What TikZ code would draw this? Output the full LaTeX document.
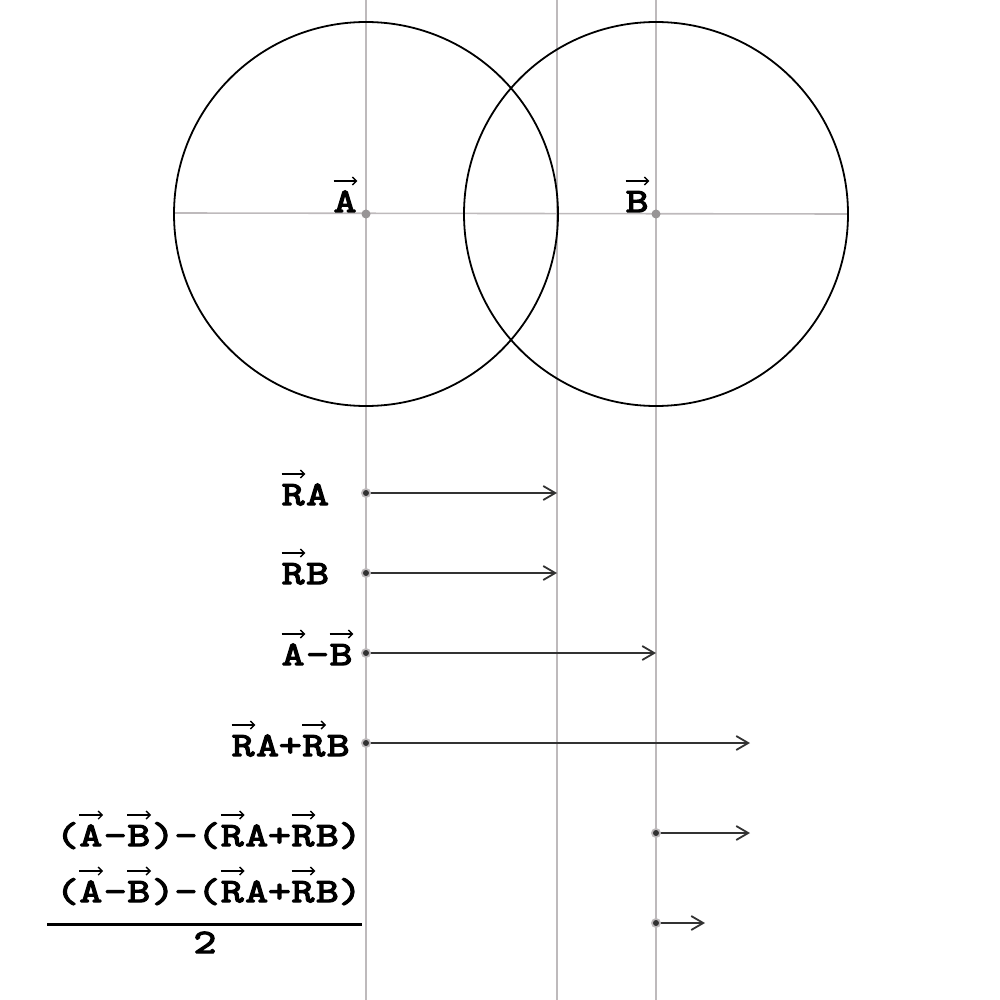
\documentclass[tikz,border=0pt]{standalone}
\usepackage{fontspec}
\newfontfamily\monob{Latin Modern Mono}[FakeBold=4,FakeStretch=1.3]
\usetikzlibrary{arrows.meta}
\newcommand\va[1]{\tikz[baseline=(vq.base),x=1pt,y=1pt,line cap=butt]{\node[inner sep=0pt,outer sep=0pt,anchor=base](vq) at (0,0){#1};\draw[line width=1.4pt,-{Straight Barb[length=4pt,width=8pt,line width=1.4pt]}] ([xshift=0pt,yshift=31pt]vq.base west) -- ([xshift=1pt,yshift=31pt]vq.base east);}}
\definecolor{guide}{RGB}{190,186,188}
\definecolor{vecc}{RGB}{50,50,50}
\tikzset{
  guideline/.style={draw=guide,line width=1.6pt},
  circ/.style={draw=black,line width=1.8pt},
  vecarrow/.style={draw=vecc,line width=1.8pt,-{Straight Barb[length=12pt,width=14pt,line width=1.8pt]}},
  lbl/.style={inner sep=0pt,outer sep=0pt,anchor=base west,font=\fontsize{34}{38}\selectfont\monob},
  startdot/.style={circle,fill=guide,inner sep=0pt,minimum size=10pt},
  ptdot/.style={circle,fill=guide!80!black,inner sep=0pt,minimum size=9pt}
}
\begin{document}
\begin{tikzpicture}[x=1pt,y=-1pt]
\useasboundingbox (0,0) rectangle (1000,1000);
% guide lines
\draw[guideline] (366,0) -- (366,1000);
\draw[guideline] (557,0) -- (557,1000);
\draw[guideline] (656,0) -- (656,1000);
\draw[guideline] (173,213) -- (848,214);
% circles
\coordinate (A) at (366,214);
\coordinate (B) at (656,214);
\draw[circ] (A) circle[radius=192];
\draw[circ] (B) circle[radius=192];
\node[ptdot] at (A) {};
\node[ptdot] at (B) {};
\node[lbl] (lA) at (333,212) {\va{A}};
\node[lbl] (lB) at (625,212) {\va{B}};
% vectors
\coordinate (s1) at (366,493); \coordinate (e1) at (557,493);
\coordinate (s2) at (366,573); \coordinate (e2) at (557,573);
\coordinate (s3) at (366,653); \coordinate (e3) at (656,653);
\coordinate (s4) at (366,743); \coordinate (e4) at (750,743);
\coordinate (s5) at (656,833); \coordinate (e5) at (750,833);
\coordinate (s6) at (656,923); \coordinate (e6) at (705,923);
\foreach \i in {1,...,6}{
  \draw[vecarrow] (s\i) -- (e\i);
  \node[startdot] at (s\i) {};
  \fill[vecc] (s\i) circle[radius=3];
}
% labels
\node[lbl] (t1) at (281,505) {\va{R}A};
\node[lbl] (t2) at (281,584) {\va{R}B};
\node[lbl] (t3) at (281,665) {\va{A}-\va{B}};
\node[lbl] (t4) at (231,756) {\va{R}A+\va{R}B};
\node[lbl] (t5) at (56,846) {(\va{A}-\va{B})-(\va{R}A+\va{R}B)};
\node[lbl] (t6) at (56,902) {(\va{A}-\va{B})-(\va{R}A+\va{R}B)};
\coordinate (f1) at (47,924); \coordinate (f2) at (362,924);
\draw[line width=3pt] (f1) -- (f2);
\node[lbl,anchor=base] (t7) at (205,953) {2};
\end{tikzpicture}
\end{document}
